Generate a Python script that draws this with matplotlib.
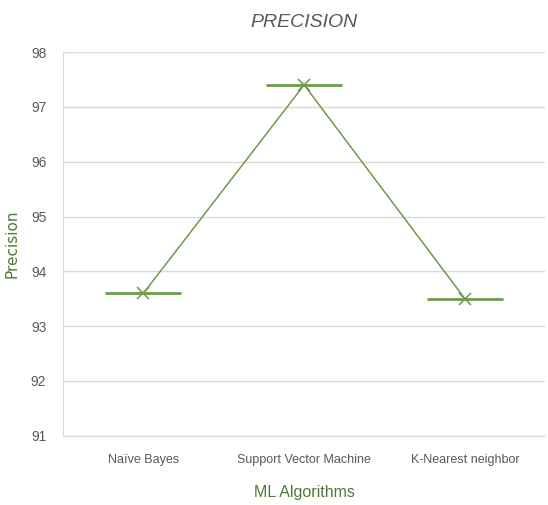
import matplotlib.pyplot as plt
import numpy as np

algorithms = ['Naïve Bayes', 'Support Vector Machine', 'K-Nearest neighbor']
precision = [93.6, 97.4, 93.5]
yticks = [91, 92, 93, 94, 95, 96, 97, 98]

green = '#6f9a4c'
grey_txt = '#595959'

plt.rcParams['font.family'] = ['Liberation Sans', 'DejaVu Sans']

fig = plt.figure(figsize=(5.48, 5.05), dpi=100)
ax = fig.add_axes([0.115, 0.137, 0.88, 0.76])

x = np.arange(len(algorithms))
ax.plot(x, precision, color=green, linewidth=1.1, zorder=3)
# wide horizontal dash markers plus the x markers
ax.plot(x, precision, linestyle='none', marker='_', markersize=55,
        markeredgewidth=2.0, color=green, zorder=3)
ax.plot(x, precision, linestyle='none', marker='x', markersize=9,
        markeredgewidth=1.1, color=green, zorder=4)

ax.set_xlim(-0.5, len(algorithms) - 0.5)
ax.set_ylim(91, 98)
ax.set_yticks(yticks)
ax.set_xticks(x)
ax.set_xticklabels(algorithms)
ax.yaxis.grid(True, color='#d9d9d9', linewidth=1)
ax.set_axisbelow(True)
ax.tick_params(length=0, colors=grey_txt, labelsize=9)
ax.tick_params(axis='x', pad=13)
ax.tick_params(axis='y', pad=12, labelsize=10)
for s in ['top', 'right']:
    ax.spines[s].set_visible(False)
for s in ['left', 'bottom']:
    ax.spines[s].set_color('#d9d9d9')

ax.set_title('PRECISION', fontsize=14, style='italic', color=grey_txt, pad=18)
ax.set_xlabel('ML Algorithms', fontsize=11.5, color='#4f7a36', labelpad=14)
ax.set_ylabel('Precision', fontsize=11, color='#4f7a36', labelpad=8,
              family='DejaVu Sans')

fig.savefig('out.png', dpi=100)
